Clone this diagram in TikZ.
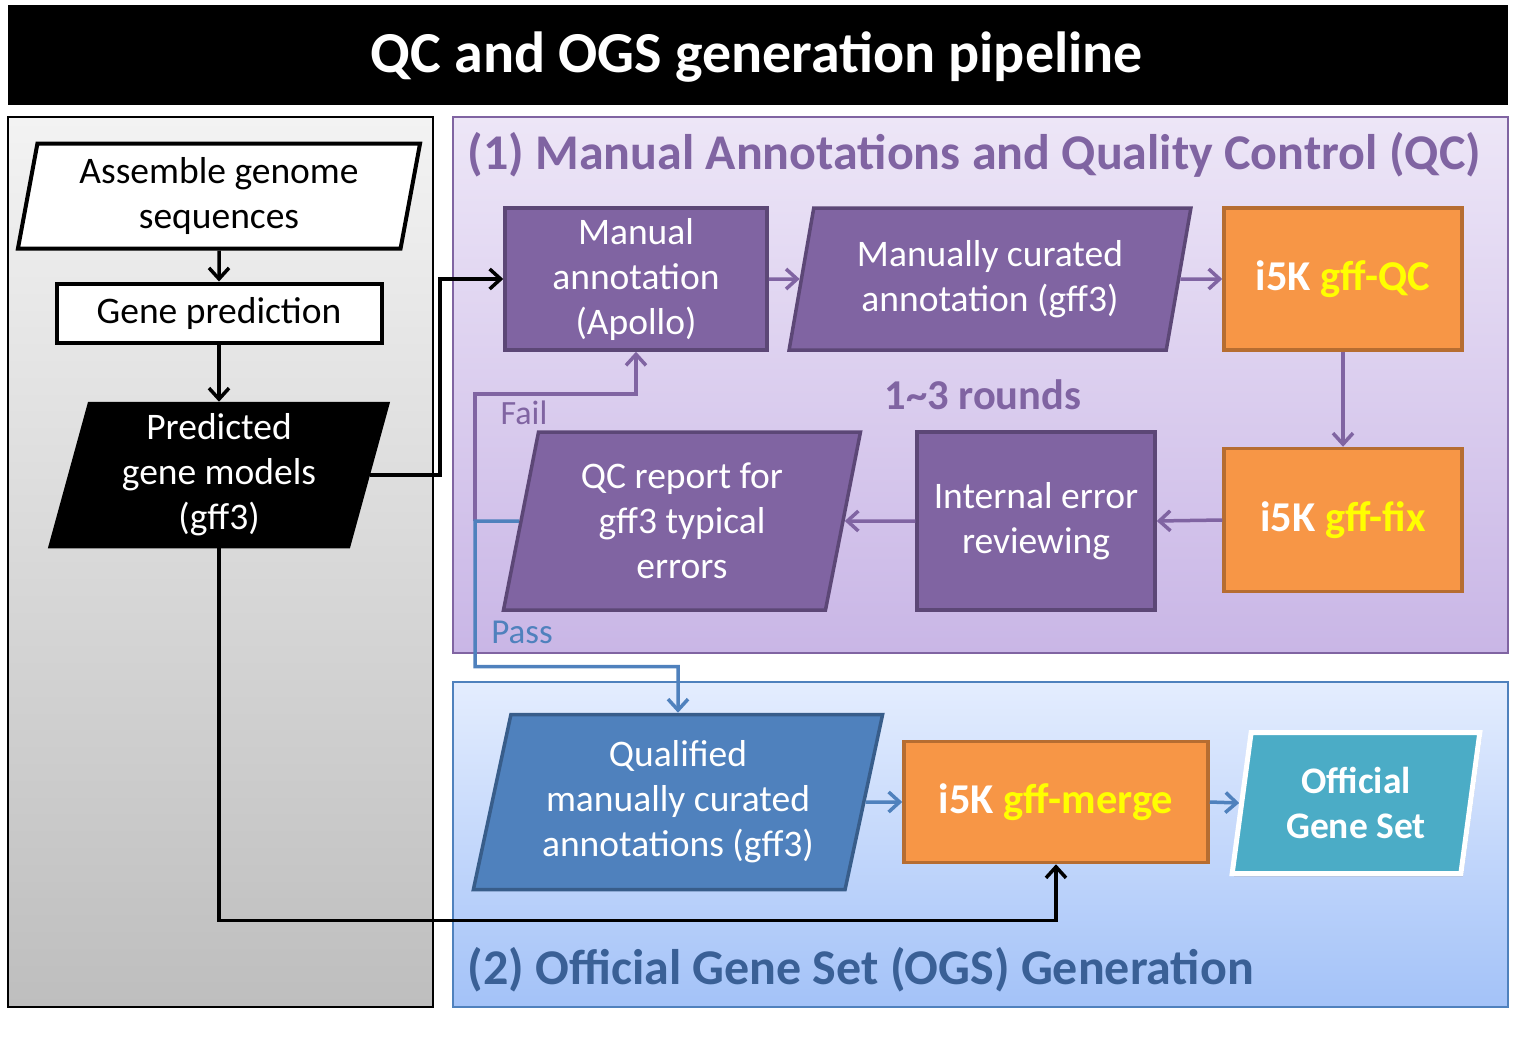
\documentclass[tikz,border=0pt]{standalone}
\usepackage{fontspec}
\setmainfont{Carlito}
\usetikzlibrary{shapes.geometric,arrows.meta,calc,shadows}
\definecolor{Pu}{HTML}{8064A2}
\definecolor{PuD}{HTML}{5C4776}
\definecolor{Or}{HTML}{F79646}
\definecolor{OrD}{HTML}{B66D31}
\definecolor{Bl}{HTML}{4F81BD}
\definecolor{BlD}{HTML}{385D8A}
\definecolor{Te}{HTML}{4BACC6}
\definecolor{Ye}{HTML}{FFFF00}
\definecolor{GrT}{RGB}{243,243,243}
\definecolor{GrB}{RGB}{190,190,190}
\definecolor{PuT}{RGB}{237,230,247}
\definecolor{PuB}{RGB}{201,182,230}
\definecolor{BlT}{RGB}{228,237,254}
\definecolor{BlB}{RGB}{163,194,248}
\definecolor{BlTitle}{RGB}{58,96,150}
\newcommand{\boxfont}{\fontsize{37.5}{45}\selectfont}
\newcommand{\toolfont}{\fontsize{42.5}{46}\bfseries\selectfont}
\newcommand{\headfont}{\fontsize{50}{56}\bfseries\selectfont}
\newcommand{\titlefont}{\fontsize{58}{64}\bfseries\selectfont}
\tikzstyle{io} = [trapezium, trapezium stretches=true, inner sep=0pt,
  align=center, font=\boxfont, line width=3.5pt]
\tikzstyle{whiteio} = [io, draw=black, fill=white, line width=4pt]
\tikzstyle{blackio} = [io, draw=black, fill=black, text=white]
\tikzstyle{purpleio} = [io, draw=PuD, fill=Pu, text=white]
\tikzstyle{blueio} = [io, draw=BlD, fill=Bl, text=white]
\tikzstyle{whitebox} = [rectangle, draw=black, fill=white, line width=4pt,
  font=\boxfont, inner sep=0pt]
\tikzstyle{purplebox} = [rectangle, draw=PuD, fill=Pu, text=white, line width=3.5pt,
  align=center, font=\boxfont, inner sep=0pt]
\tikzstyle{toolbox} = [rectangle, draw=OrD, fill=Or, text=white, line width=3.5pt,
  font=\toolfont, inner sep=0pt]
\tikzstyle{arrow} = [-{Straight Barb[length=11pt,width=20pt,line width=3.5pt]}, line width=3.5pt]
\tikzstyle{blackarrow} = [arrow, black]
\tikzstyle{purplearrow} = [arrow, Pu]
\tikzstyle{bluearrow} = [arrow, Bl]

\begin{document}
\begin{tikzpicture}[x=1pt,y=-1pt]
\useasboundingbox (0,0) rectangle (1518,1039);
% panels
\fill[black] (8,5) rectangle (1508,105);
\node[text=white, font=\titlefont] (title) at (757,57) {QC and OGS generation pipeline};
\draw[black, line width=1.5pt, top color=GrT, bottom color=GrB] (8,117) rectangle (433,1007);
\draw[Pu, line width=2pt, top color=PuT, bottom color=PuB] (453,117) rectangle (1508,653);
\draw[Bl, line width=2pt, top color=BlT, bottom color=BlB] (453,682) rectangle (1508,1007);
\node[anchor=west, text=Pu, font=\headfont] (qchead) at (464,155)
  {(1) Manual Annotations and Quality Control (QC)};
\node[anchor=west, text=BlTitle, font=\headfont] (ogshead) at (464,970)
  {(2) Official Gene Set (OGS) Generation};

% gene prediction side
\node[whiteio, trapezium left angle=79, trapezium right angle=101,
  minimum width=404pt, minimum height=105pt] (assemble) at (219,196)
  {Assemble genome\\sequences};
\node[whitebox, minimum width=325pt, minimum height=59pt] (geneprd) at (219,313)
  {Gene prediction};
\node[blackio, trapezium left angle=76.5, trapezium right angle=103.5,
  minimum width=339pt, minimum height=143pt] (pred) at (219,475)
  {Predicted\\gene models\\(gff3)};

% QC loop
\node[purplebox, minimum width=262pt, minimum height=142pt] (manual) at (636,279)
  {Manual\\annotation\\(Apollo)};
\node[purpleio, trapezium left angle=76.5, trapezium right angle=103.5,
  minimum width=402pt, minimum height=142pt] (curated) at (990,279)
  {Manually curated\\annotation (gff3)};
\node[toolbox, minimum width=238pt, minimum height=142pt] (gffqc) at (1343,279)
  {i5K \textcolor{Ye}{gff-QC}};
\node[toolbox, minimum width=238pt, minimum height=143pt] (gfffix) at (1343,520)
  {i5K \textcolor{Ye}{gff-fix}};
\node[purplebox, minimum width=238pt, minimum height=178pt] (review) at (1036,521)
  {Internal error\\reviewing};
\node[purpleio, trapezium left angle=78, trapezium right angle=102,
  minimum width=358pt, minimum height=178pt] (qcrep) at (682,521)
  {QC report for\\gff3 typical\\errors};
\node[text=Pu, font=\toolfont] (rounds) at (983,395) {1\textasciitilde3 rounds};
\node[text=Pu, font=\fontsize{34}{40}\selectfont] (fail) at (524,413) {Fail};
\node[text=Bl, font=\fontsize{35}{40}\selectfont] (pass) at (522,632) {Pass};

% OGS generation
\node[blueio, trapezium left angle=76, trapezium right angle=104,
  minimum width=411pt, minimum height=175pt] (qualified) at (678,802)
  {Qualified\\manually curated\\annotations (gff3)};
\node[toolbox, minimum width=304pt, minimum height=121pt] (merge) at (1056,802)
  {i5K \textcolor{Ye}{gff-merge}};
\node[io, draw=white, fill=Te, text=white, line width=5pt, font=\boxfont\bfseries,
  drop shadow={shadow xshift=2pt, shadow yshift=-3pt, opacity=.35},
  trapezium left angle=80, trapezium right angle=100,
  minimum width=248pt, minimum height=141pt] (official) at (1356,803)
  {Official\\Gene Set};

% connectors
\coordinate (split) at (475,521);
\draw[blackarrow] (assemble) -- (geneprd);
\draw[blackarrow] (geneprd) -- (pred);
\draw[blackarrow] (pred.east) -- ++(70,0) |- (manual.west);
\draw[blackarrow] (pred.south) |- ([yshift=-56pt]merge.south) -- (merge.south);
\draw[purplearrow] (manual.east) -- (curated.west);
\draw[purplearrow] (curated.east) -- (gffqc.west);
\draw[purplearrow] (gffqc.south) -- (gfffix.north);
\draw[purplearrow] (gfffix.west) -- (review.east);
\draw[purplearrow] (review.west) -- (qcrep.east);
\draw[purplearrow] (split) |- ([yshift=-42pt]manual.south) -- (manual.south);
\draw[bluearrow] (qcrep.west) -- (split) |- ([yshift=46pt]qualified.north) -- (qualified.north);
\draw[bluearrow] (qualified.east) -- (merge.west);
\draw[bluearrow] (merge.east) -- (official.west);
\end{tikzpicture}
\end{document}
